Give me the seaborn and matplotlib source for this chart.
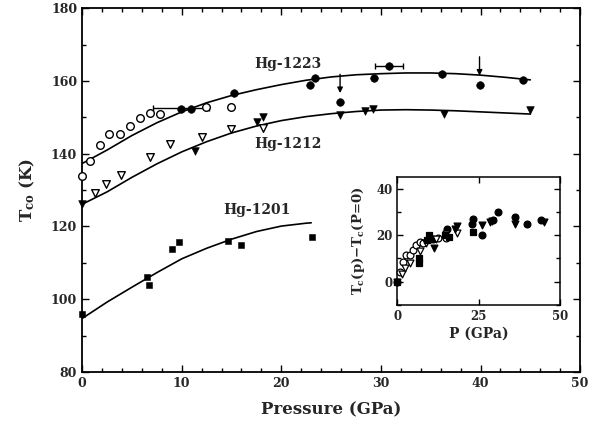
import numpy as np
import pandas as pd
import matplotlib
matplotlib.use('Agg')
import matplotlib.pyplot as plt
import seaborn as sns
from matplotlib.ticker import MultipleLocator

# Hg-1223 (open = one run, filled = another)
p1223_open = [0.0, 0.8, 1.8, 2.7, 3.8, 4.8, 5.8, 6.8, 7.8, 12.4, 14.9]
t1223_open = [134.0, 138.0, 142.3, 145.3, 145.4, 147.6, 149.9, 151.1, 150.8, 152.8, 152.9]
p1223_fill = [9.9, 10.9, 15.2, 22.9, 23.4, 25.9, 29.3, 30.8, 36.1, 39.9, 44.3]
t1223_fill = [152.4, 152.2, 156.8, 158.9, 160.9, 154.1, 160.7, 164.0, 162.0, 158.9, 160.4]

# Hg-1212
p1212_open = [1.3, 2.4, 3.9, 6.8, 8.8, 12.0, 14.9, 18.2]
t1212_open = [129.3, 131.8, 134.1, 139.2, 142.7, 144.5, 146.7, 147.0]
p1212_fill = [0.0, 11.3, 17.6, 18.2, 25.9, 28.4, 29.2, 36.3, 45.0]
t1212_fill = [126.1, 140.8, 148.8, 150.2, 150.7, 151.7, 152.2, 150.8, 152.0]

# Hg-1201
p1201 = [0.0, 6.5, 6.7, 9.0, 9.7, 14.6, 16.0, 23.1]
t1201 = [95.8, 106.0, 104.0, 113.9, 115.8, 116.0, 114.9, 117.0]

# fitted curves
fit_p = [0, 2.5, 5, 7.5, 10, 12.5, 15, 17.5, 20, 22.5, 25, 27.5, 30, 32.5, 35, 37.5, 40, 42.5, 45]
fit_1223 = [137.3, 141.0, 145.0, 148.5, 151.5, 154.0, 156.0, 157.6, 159.0, 160.2, 161.1, 161.7,
            162.0, 162.2, 162.2, 162.0, 161.6, 161.0, 160.3]
fit_1212 = [126.1, 129.5, 133.5, 137.2, 140.5, 143.3, 145.7, 147.6, 149.1, 150.2, 151.0, 151.6,
            152.0, 152.1, 152.0, 151.8, 151.5, 151.2, 150.9]
fit_p_1201 = [0, 2.5, 5, 7.5, 10, 12.5, 15, 17.5, 20, 22.5, 23]
fit_1201 = [94.7, 99.2, 103.3, 107.3, 111.1, 114.0, 116.5, 118.6, 120.1, 120.9, 121.0]

sns.set_theme(style='ticks')
plt.rcParams['font.family'] = ['DejaVu Serif']
plt.rcParams['font.weight'] = 'bold'
plt.rcParams['mathtext.fontset'] = 'dejavuserif'
plt.rcParams['mathtext.default'] = 'bf'

fig = plt.figure(figsize=(5.95, 4.32), dpi=100)
ax = fig.add_axes([0.138, 0.139, 0.837, 0.842])

curves = pd.DataFrame({'P': fit_p, 'Hg-1223': fit_1223, 'Hg-1212': fit_1212})
sns.lineplot(data=curves, x='P', y='Hg-1223', ax=ax, color='black', lw=1.2)
sns.lineplot(data=curves, x='P', y='Hg-1212', ax=ax, color='black', lw=1.2)
sns.lineplot(x=fit_p_1201, y=fit_1201, ax=ax, color='black', lw=1.2)

ms = 30
sns.scatterplot(x=p1223_open, y=t1223_open, ax=ax, marker='o', s=ms, facecolor='white',
                edgecolor='black', linewidth=1.0, zorder=3, clip_on=False)
sns.scatterplot(x=p1223_fill, y=t1223_fill, ax=ax, marker='o', s=ms, color='black',
                edgecolor='black', zorder=3, clip_on=False)
sns.scatterplot(x=p1212_open, y=t1212_open, ax=ax, marker='v', s=ms, facecolor='white',
                edgecolor='black', linewidth=1.0, zorder=3, clip_on=False)
sns.scatterplot(x=p1212_fill, y=t1212_fill, ax=ax, marker='v', s=ms, color='black',
                edgecolor='black', zorder=3, clip_on=False)
sns.scatterplot(x=p1201, y=t1201, ax=ax, marker='s', s=24, color='black',
                edgecolor='black', zorder=3, clip_on=False)

# error bars
ax.errorbar(p1223_fill[7], t1223_fill[7], xerr=1.4, fmt='none', ecolor='black',
            elinewidth=1, capsize=2.5)
ax.errorbar(p1223_fill[0], 152.7, xerr=2.8, fmt='none', ecolor='black',
            elinewidth=1, capsize=2)

# arrows
for p, t in [(p1223_fill[5], t1223_fill[5]), (p1223_fill[9], t1223_fill[9])]:
    ax.annotate('', xy=(p, t + 1.8), xytext=(p, t + 8.5),
                arrowprops=dict(arrowstyle='-|>', color='black', lw=1, mutation_scale=8))

ax.text(20.7, 164.7, 'Hg-1223', fontsize=10, ha='center', va='center', fontweight='bold')
ax.text(20.7, 142.8, 'Hg-1212', fontsize=10, ha='center', va='center', fontweight='bold')
ax.text(17.6, 124.5, 'Hg-1201', fontsize=10, ha='center', va='center', fontweight='bold')

ax.set_xlim(0, 50)
ax.set_ylim(80, 180)
ax.xaxis.set_major_locator(MultipleLocator(10))
ax.xaxis.set_minor_locator(MultipleLocator(2))
ax.yaxis.set_major_locator(MultipleLocator(20))
ax.yaxis.set_minor_locator(MultipleLocator(10))
ax.tick_params(which='both', direction='in', top=True, right=True, labelsize=9, width=1,
               color='black')
ax.tick_params(which='major', length=5)
ax.tick_params(which='minor', length=3)
for s in ax.spines.values():
    s.set_linewidth(1.3)
    s.set_color('black')
ax.set_xlabel('Pressure (GPa)', fontsize=12, fontweight='bold', labelpad=8)
ax.set_ylabel('T$_{co}$ (K)', fontsize=12, fontweight='bold', labelpad=10)

# inset: Tc(p) - Tc(P=0)
ins = fig.add_axes([0.668, 0.294, 0.273, 0.296])
sets = [
    (p1223_open, t1223_open, t1223_open[0], 'o', 'white'),
    (p1223_fill, t1223_fill, t1223_open[0], 'o', 'black'),
    (p1212_open, t1212_open, t1212_fill[0], 'v', 'white'),
    (p1212_fill, t1212_fill, t1212_fill[0], 'v', 'black'),
    (p1201, t1201, t1201[0], 's', 'black'),
]
for p, t, t0, mk, fc in sets:
    d = np.array(t) - t0
    sns.scatterplot(x=p, y=d, ax=ins, marker=mk, s=24, facecolor=fc, edgecolor='black',
                    linewidth=0.9, zorder=3, clip_on=False)
ins.set_xlim(0, 50)
ins.set_ylim(-10, 45)
ins.xaxis.set_major_locator(MultipleLocator(25))
ins.yaxis.set_major_locator(MultipleLocator(20))
ins.yaxis.set_minor_locator(MultipleLocator(10))
ins.tick_params(which='both', direction='in', top=True, right=True, labelsize=8.5, width=1,
                color='black')
ins.tick_params(which='major', length=4)
ins.tick_params(which='minor', length=3)
for s in ins.spines.values():
    s.set_linewidth(1.1)
    s.set_color('black')
ins.set_xlabel('P (GPa)', fontsize=10, fontweight='bold', labelpad=3)
ins.set_ylabel('T$_c$(p)$-$T$_c$(P=0)', fontsize=9.5, fontweight='bold', labelpad=7)

fig.savefig('out.png', dpi=100)
